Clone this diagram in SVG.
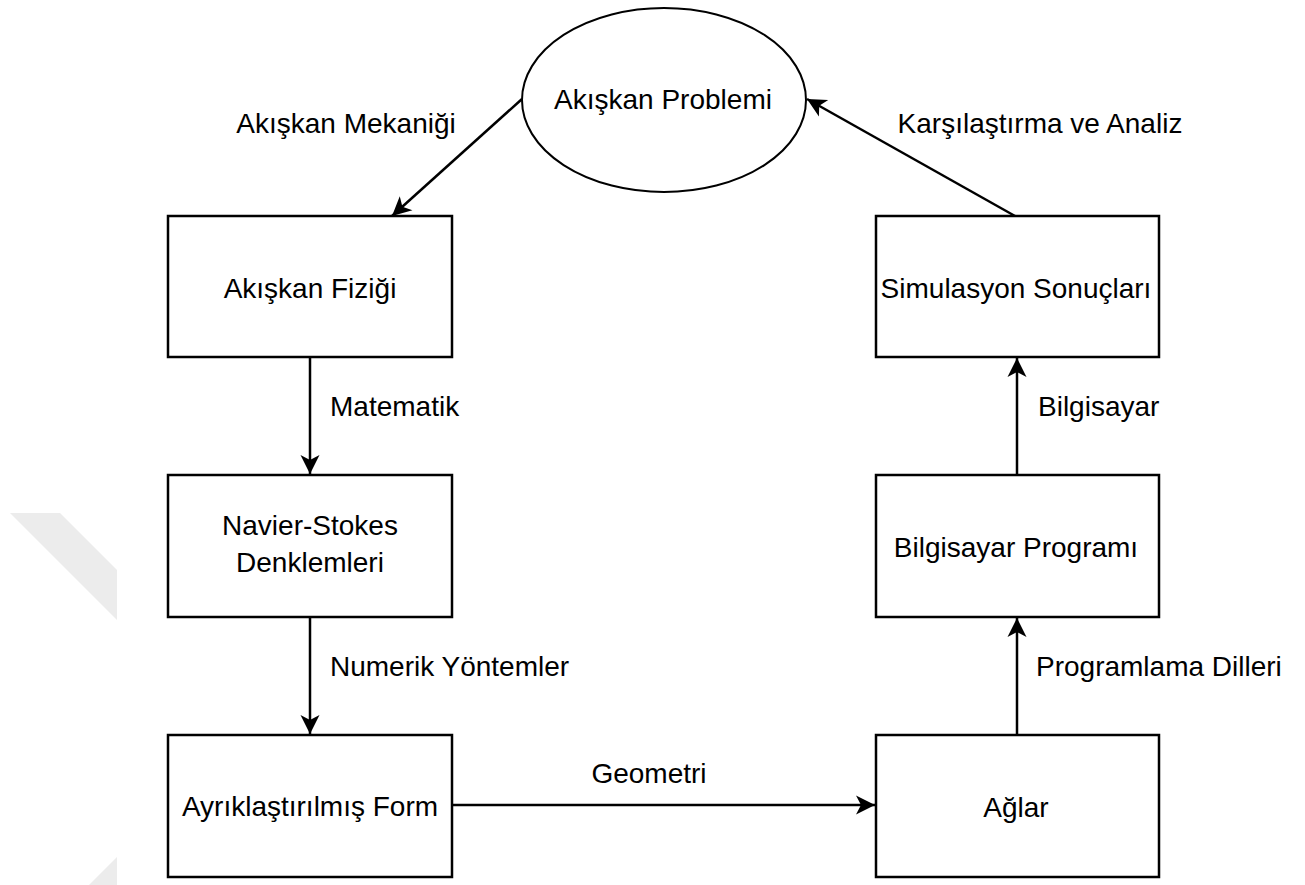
<svg xmlns="http://www.w3.org/2000/svg" width="1305" height="885" viewBox="0 0 1305 885">
  <style>
    .box { fill: #ffffff; stroke: #000000; stroke-width: 2.5; }
    .oval { fill: #ffffff; stroke: #000000; stroke-width: 2; }
    .edge { fill: none; stroke: #000000; stroke-width: 2.5; marker-end: url(#arrow); }
    .lbl { font-family: "Liberation Sans", Arial, sans-serif; font-size: 28px; fill: #000000; }
    .mid { text-anchor: middle; }
    .mark { fill: #ececec; }
  </style>
  <defs>
    <marker id="arrow" viewBox="-20 -11 22 22" refX="0" refY="0" markerWidth="22" markerHeight="22" orient="auto" markerUnits="userSpaceOnUse">
      <path d="M0,0 L-19,-9.5 L-14,0 L-19,9.5 Z" fill="#000000"/>
    </marker>
  </defs>

  <rect width="1305" height="885" fill="#ffffff"/>

  <!-- faint background mark on the left edge -->
  <g id="backdrop-mark">
    <polygon class="mark" points="10,513 60,513 117,570 117,620"/>
    <polygon class="mark" points="117,857 117,885 89,885"/>
  </g>

  <!-- connectors -->
  <g id="connectors">
    <line class="edge" x1="522" y1="99" x2="392" y2="216"/>
    <line class="edge" x1="310" y1="357" x2="310" y2="474"/>
    <line class="edge" x1="310" y1="617" x2="310" y2="734"/>
    <line class="edge" x1="452" y1="805" x2="875" y2="805"/>
    <line class="edge" x1="1017" y1="735" x2="1017" y2="618"/>
    <line class="edge" x1="1017" y1="475" x2="1017" y2="358"/>
    <line class="edge" x1="1015" y1="216" x2="807" y2="99"/>
  </g>

  <!-- connector labels -->
  <g id="edge-labels">
    <text class="lbl mid" x="346" y="133">Akışkan Mekaniği</text>
    <text class="lbl" x="330" y="416">Matematik</text>
    <text class="lbl" x="330" y="676">Numerik Yöntemler</text>
    <text class="lbl mid" x="649" y="783">Geometri</text>
    <text class="lbl" x="1036" y="676">Programlama Dilleri</text>
    <text class="lbl" x="1038" y="416">Bilgisayar</text>
    <text class="lbl mid" x="1040" y="133">Karşılaştırma ve Analiz</text>
  </g>

  <g id="node-problem">
    <ellipse class="oval" cx="664" cy="100" rx="142" ry="92"/>
    <text class="lbl mid" x="663" y="109">Akışkan Problemi</text>
  </g>

  <g id="node-physics">
    <rect class="box" x="168" y="216" width="284" height="141"/>
    <text class="lbl mid" x="310" y="298">Akışkan Fiziği</text>
  </g>

  <g id="node-navier-stokes">
    <rect class="box" x="168" y="475" width="284" height="142"/>
    <text class="lbl mid" x="310" y="535">Navier-Stokes</text>
    <text class="lbl mid" x="310" y="572">Denklemleri</text>
  </g>

  <g id="node-discrete">
    <rect class="box" x="168" y="735" width="284" height="142"/>
    <text class="lbl mid" x="310" y="816">Ayrıklaştırılmış Form</text>
  </g>

  <g id="node-mesh">
    <rect class="box" x="876" y="735" width="283" height="142"/>
    <text class="lbl mid" x="1016" y="817">Ağlar</text>
  </g>

  <g id="node-program">
    <rect class="box" x="876" y="475" width="283" height="142"/>
    <text class="lbl mid" x="1016" y="557">Bilgisayar Programı</text>
  </g>

  <g id="node-results">
    <rect class="box" x="876" y="216" width="283" height="141"/>
    <text class="lbl mid" x="1016" y="298">Simulasyon Sonuçları</text>
  </g>
</svg>
